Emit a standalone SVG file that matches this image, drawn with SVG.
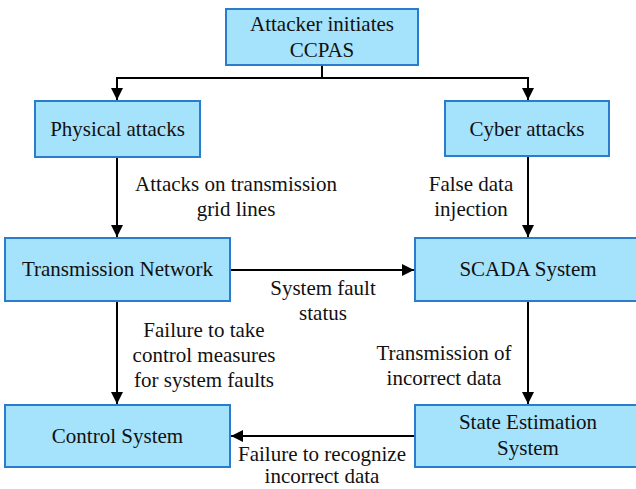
<svg xmlns="http://www.w3.org/2000/svg" width="636" height="489" viewBox="0 0 636 489">
  <defs>
    <marker id="arrow" markerUnits="userSpaceOnUse" markerWidth="12" markerHeight="12" viewBox="0 0 12 12" refX="12" refY="6" orient="auto">
      <path d="M0,0 L12,6 L0,12 Z" fill="#000"/>
    </marker>
    <style>
      .box { fill: #a5e2fb; stroke: #2a7ccc; stroke-width: 2; }
      .label { font-family: 'Liberation Serif', 'Times New Roman', serif; font-size: 21px; fill: #111; text-anchor: middle; }
      .edge { fill: none; stroke: #000; stroke-width: 2; }
    </style>
  </defs>
  <rect width="636" height="489" fill="#fff"/>

  <!-- arrows and their captions -->
  <g id="connectors">
    <path class="edge" d="M322,65 V78"/>
    <path class="edge" d="M322,78 H117 V100" marker-end="url(#arrow)"/>
    <path class="edge" d="M322,78 H528 V100" marker-end="url(#arrow)"/>
    <path class="edge" d="M117,157 V237" marker-end="url(#arrow)"/>
    <path class="edge" d="M528,156 V237" marker-end="url(#arrow)"/>
    <path class="edge" d="M230,270 H414" marker-end="url(#arrow)"/>
    <path class="edge" d="M117,301 V404" marker-end="url(#arrow)"/>
    <path class="edge" d="M528,301 V404" marker-end="url(#arrow)"/>
    <path class="edge" d="M415,436 H231" marker-end="url(#arrow)"/>
    <text class="label" x="236" y="191">Attacks on transmission</text>
    <text class="label" x="236" y="216">grid lines</text>
    <text class="label" x="471" y="191">False data</text>
    <text class="label" x="471" y="216">injection</text>
    <text class="label" x="323" y="295">System fault</text>
    <text class="label" x="323" y="320">status</text>
    <text class="label" x="204" y="337">Failure to take</text>
    <text class="label" x="204" y="362">control measures</text>
    <text class="label" x="204" y="387">for system faults</text>
    <text class="label" x="444" y="360">Transmission of</text>
    <text class="label" x="444" y="385">incorrect data</text>
    <text class="label" x="322" y="461">Failure to recognize</text>
    <text class="label" x="322" y="483">incorrect data</text>
  </g>

  <g id="attacker">
    <rect class="box" x="226" y="9" width="192" height="56"/>
    <text class="label" x="322" y="31">Attacker initiates</text>
    <text class="label" x="322" y="57">CCPAS</text>
  </g>
  <g id="physical">
    <rect class="box" x="35" y="101" width="165" height="56"/>
    <text class="label" x="117.5" y="136">Physical attacks</text>
  </g>
  <g id="cyber">
    <rect class="box" x="445" y="101" width="164" height="55"/>
    <text class="label" x="527" y="136">Cyber attacks</text>
  </g>
  <g id="transmission">
    <rect class="box" x="5" y="238" width="225" height="63"/>
    <text class="label" x="117.5" y="276">Transmission Network</text>
  </g>
  <g id="scada">
    <rect class="box" x="415" y="238" width="226" height="63"/>
    <text class="label" x="528" y="276">SCADA System</text>
  </g>
  <g id="control">
    <rect class="box" x="5" y="405" width="225" height="62"/>
    <text class="label" x="117.5" y="443">Control System</text>
  </g>
  <g id="state-estimation">
    <rect class="box" x="415" y="405" width="226" height="62"/>
    <text class="label" x="528" y="429">State Estimation</text>
    <text class="label" x="528" y="455">System</text>
  </g>
</svg>
